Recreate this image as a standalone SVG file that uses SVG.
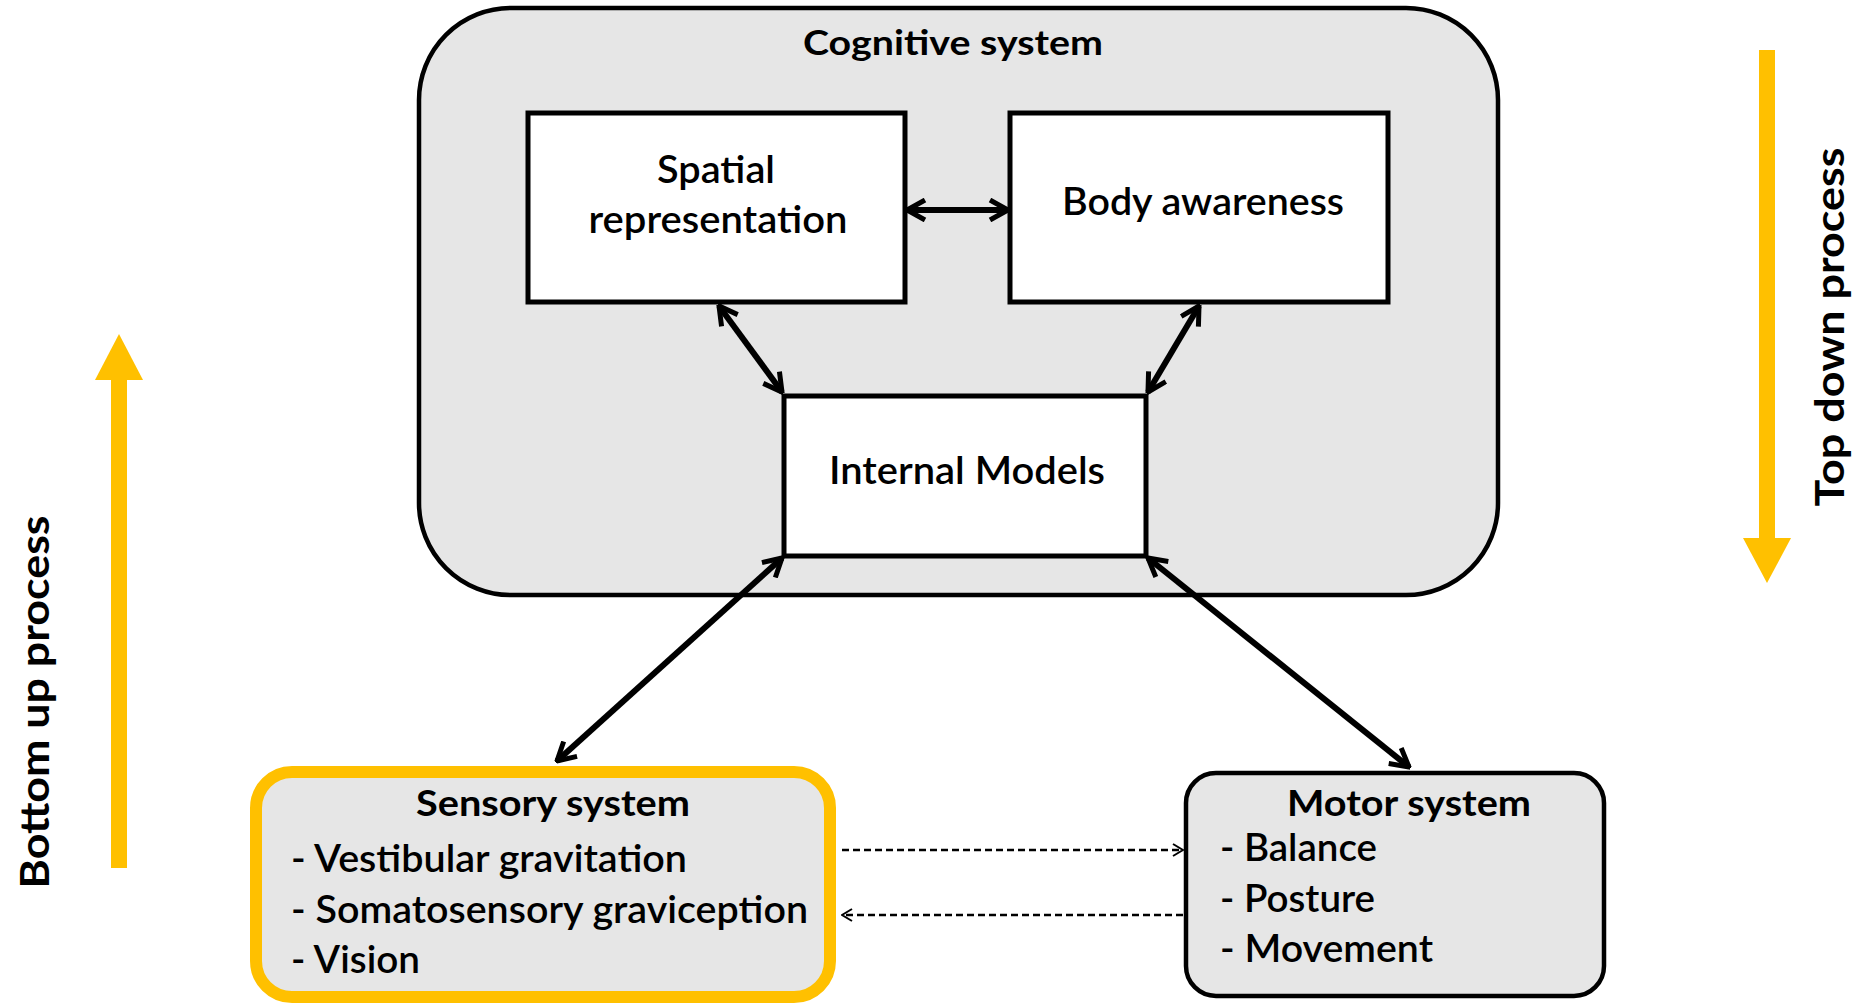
<svg xmlns="http://www.w3.org/2000/svg" width="1857" height="1007" viewBox="0 0 1857 1007">
<style>
.t{font-family:Lato,"Open Sans","Liberation Sans",sans-serif;fill:#000;}
.b{font-weight:bold;}
.box{fill:#fff;stroke:#000;stroke-width:5;}
.grey{fill:#e6e6e6;stroke:#000;stroke-width:4.5;}
.con{stroke:#000;stroke-width:6;fill:none;}
.dash{stroke:#000;stroke-width:2.5;fill:none;stroke-dasharray:7 4;}
.orange{fill:#FFC000;}
</style>
<defs>
<marker id="ah" viewBox="0 0 24 24" refX="22" refY="12" markerWidth="24" markerHeight="24" markerUnits="userSpaceOnUse" orient="auto-start-reverse">
<path d="M4,2 L22,12 L4,22" fill="none" stroke="#000" stroke-width="5" stroke-linejoin="miter"/>
</marker>
<marker id="ahs" viewBox="0 0 14 14" refX="13" refY="7" markerWidth="14" markerHeight="14" markerUnits="userSpaceOnUse" orient="auto">
<path d="M3,1 L13,7 L3,13" fill="none" stroke="#000" stroke-width="2"/>
</marker>
</defs>
<rect width="1857" height="1007" fill="#fff"/>

<g id="cognitive-system">
<rect class="grey" x="419" y="8" width="1079" height="587" rx="92" ry="92"/>
<text class="t b" x="953" y="55" font-size="34" text-anchor="middle" textLength="300" lengthAdjust="spacingAndGlyphs">Cognitive system</text>
</g>

<g id="spatial-representation">
<rect class="box" x="528" y="113" width="377" height="189"/>
<text class="t" x="716" y="183" font-size="38" text-anchor="middle" textLength="118" lengthAdjust="spacingAndGlyphs" font-weight="600">Spatial</text>
<text class="t" x="718" y="233" font-size="38" text-anchor="middle" textLength="259" lengthAdjust="spacingAndGlyphs" font-weight="600">representation</text>
</g>

<g id="body-awareness">
<rect class="box" x="1010" y="113" width="378" height="189"/>
<text class="t" x="1203" y="215" font-size="38" text-anchor="middle" textLength="282" lengthAdjust="spacingAndGlyphs" font-weight="600">Body awareness</text>
</g>

<g id="internal-models">
<rect class="box" x="784" y="396" width="362" height="160"/>
<text class="t" x="967" y="484" font-size="38" text-anchor="middle" textLength="276" lengthAdjust="spacingAndGlyphs" font-weight="600">Internal Models</text>
</g>

<g id="sensory-system">
<rect x="256" y="772" width="574" height="225" rx="36" ry="36" fill="#e6e6e6" stroke="#FFC000" stroke-width="12"/>
<text class="t b" x="553" y="816" font-size="36" text-anchor="middle" textLength="274" lengthAdjust="spacingAndGlyphs">Sensory system</text>
<text class="t" x="291" y="872" font-size="38" textLength="396" lengthAdjust="spacingAndGlyphs" font-weight="600">- Vestibular gravitation</text>
<text class="t" x="291" y="923" font-size="38" textLength="517" lengthAdjust="spacingAndGlyphs" font-weight="600">- Somatosensory graviception</text>
<text class="t" x="291" y="973" font-size="38" textLength="129" lengthAdjust="spacingAndGlyphs" font-weight="600">- Vision</text>
</g>

<g id="motor-system">
<rect class="grey" x="1186" y="773" width="418" height="223" rx="30" ry="30"/>
<text class="t b" x="1409" y="816" font-size="36" text-anchor="middle" textLength="244" lengthAdjust="spacingAndGlyphs">Motor system</text>
<text class="t" x="1220" y="861" font-size="38" textLength="157" lengthAdjust="spacingAndGlyphs" font-weight="600">- Balance</text>
<text class="t" x="1220" y="912" font-size="38" textLength="155" lengthAdjust="spacingAndGlyphs" font-weight="600">- Posture</text>
<text class="t" x="1220" y="962" font-size="38" textLength="213" lengthAdjust="spacingAndGlyphs" font-weight="600">- Movement</text>
</g>

<g id="connectors">
<line class="con" x1="907" y1="210" x2="1008" y2="210" marker-start="url(#ah)" marker-end="url(#ah)"/>
<line class="con" x1="719" y1="306" x2="782" y2="392" marker-start="url(#ah)" marker-end="url(#ah)"/>
<line class="con" x1="1199" y1="306" x2="1148" y2="392" marker-start="url(#ah)" marker-end="url(#ah)"/>
<line class="con" x1="782" y1="558" x2="557" y2="761" marker-start="url(#ah)" marker-end="url(#ah)"/>
<line class="con" x1="1148" y1="558" x2="1409" y2="767" marker-start="url(#ah)" marker-end="url(#ah)"/>
<line class="dash" x1="842" y1="850" x2="1183" y2="850" marker-end="url(#ahs)"/>
<line class="dash" x1="1183" y1="915" x2="842" y2="915" marker-end="url(#ahs)"/>
</g>

<g id="bottom-up-process">
<rect class="orange" x="111" y="378" width="16" height="490"/>
<polygon class="orange" points="95,380 143,380 119,334"/>
<text class="t b" transform="translate(49,702) rotate(-90)" x="0" y="0" font-size="40" text-anchor="middle" textLength="373" lengthAdjust="spacingAndGlyphs">Bottom up process</text>
</g>

<g id="top-down-process">
<rect class="orange" x="1759" y="50" width="16" height="490"/>
<polygon class="orange" points="1743,538 1791,538 1767,583"/>
<text class="t b" transform="translate(1844,327) rotate(-90)" x="0" y="0" font-size="40" text-anchor="middle" textLength="359" lengthAdjust="spacingAndGlyphs">Top down process</text>
</g>
</svg>
